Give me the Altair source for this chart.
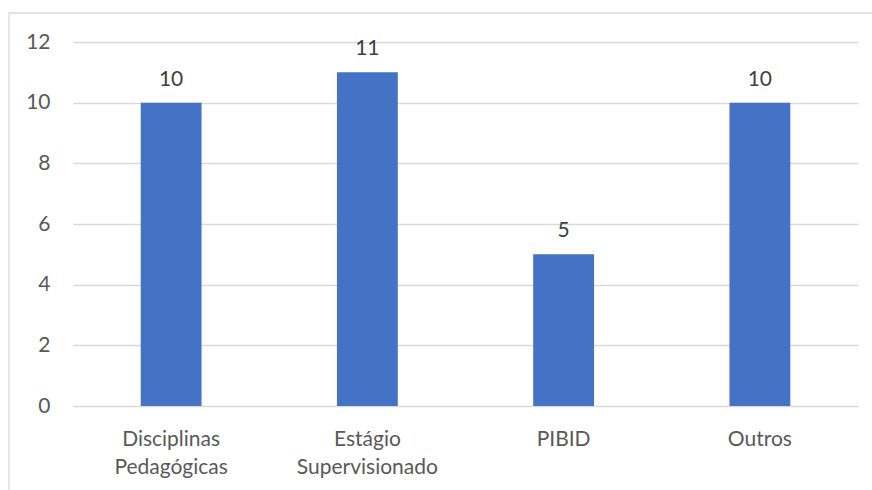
import altair as alt
import pandas as pd

categories = ["Disciplinas Pedagógicas", "Estágio Supervisionado", "PIBID", "Outros"]
values = [10, 11, 5, 10]

df = pd.DataFrame({"cat": categories, "val": values})

FONT = "Lato"
TXT = "#595959"
FS = 21

x_enc = alt.X(
    "cat:N",
    sort=categories,
    title=None,
    scale=alt.Scale(paddingInner=0.69, paddingOuter=0.345),
    axis=alt.Axis(
        labelAngle=0,
        labelExpr="split(datum.label, ' ')",
        labelFont=FONT,
        labelFontSize=FS,
        labelColor=TXT,
        labelLineHeight=28,
        labelPadding=22,
        domain=False,
        ticks=False,
        grid=False,
    ),
)
y_enc = alt.Y(
    "val:Q",
    title=None,
    scale=alt.Scale(domain=[0, 12], nice=False),
    axis=alt.Axis(
        values=[0, 2, 4, 6, 8, 10, 12],
        labelFont=FONT,
        labelFontSize=FS,
        labelColor=TXT,
        labelPadding=23,
        domain=False,
        ticks=False,
        grid=True,
        gridColor="#d9d9d9",
        gridWidth=1.3,
    ),
)

border = alt.Chart(pd.DataFrame({"a": [0]})).mark_rect(
    fill=None, stroke="#d9d9d9", strokeWidth=1.3
).encode(
    x=alt.value(-64), x2=alt.value(1000), y=alt.value(-29), y2=alt.value(1000)
)

bars = alt.Chart(df).mark_bar(color="#4472C4").encode(x=x_enc, y=y_enc)

labels = alt.Chart(df).mark_text(
    dy=-17, font=FONT, fontSize=FS, color="#404040", baseline="alphabetic"
).encode(
    x=alt.X("cat:N", sort=categories),
    y=alt.Y("val:Q"),
    text=alt.Text("val:Q"),
)

chart = (
    alt.layer(border, bars, labels)
    .properties(
        width=785,
        height=364,
        autosize=alt.AutoSizeParams(type="none"),
        padding={"left": 73, "top": 42, "right": 14, "bottom": 84},
        background="white",
    )
    .configure_view(stroke=None)
)

chart.save("out.html", embed_options={"renderer": "svg", "actions": False})
